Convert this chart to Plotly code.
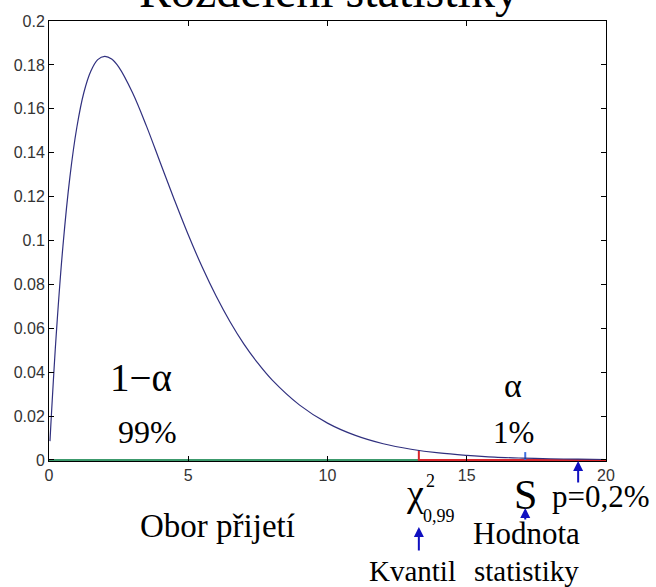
import plotly.graph_objects as go

# ---- data ----
x_curve = [0.035, 0.25, 0.5, 0.75, 1.0, 1.25, 1.5, 1.75, 2.0, 2.25, 2.5, 3.0, 3.5, 4.0, 4.5, 5.0,
           5.5, 6.0, 6.5, 7.0, 7.5, 8.0, 9.0, 10.0, 11.0, 12.0, 13.0, 14.0, 15.0, 16.0, 17.0,
           18.0, 19.0, 20.0]
y_curve = [0.0086, 0.0552, 0.0974, 0.1289, 0.1516, 0.1673, 0.1771, 0.1824, 0.1839, 0.1827,
           0.1791, 0.1673, 0.1521, 0.1353, 0.1186, 0.1026, 0.0879, 0.0747, 0.0630, 0.0528,
           0.0441, 0.0366, 0.0250, 0.0168, 0.0112, 0.0074, 0.0049, 0.0032, 0.0021, 0.0013,
           0.00086, 0.00056, 0.00036, 0.00023]
x_min, x_max = 0, 20
quantile = 13.28
quantile_density = 0.0045
s_value = 17.1
s_tick_top = 0.0036
p_arrow_x = 19.0

x_ticks = [0, 5, 10, 15, 20]
x_tick_labels = ["0", "5", "10", "15", "20"]
y_ticks = [0, 0.02, 0.04, 0.06, 0.08, 0.1, 0.12, 0.14, 0.16, 0.18, 0.2]
y_tick_labels = ["0", "0.02", "0.04", "0.06", "0.08", "0.1", "0.12", "0.14", "0.16", "0.18", "0.2"]

title_text = "Rozdělení statistiky"

# ---- layout geometry (pixels) ----
W, H = 656, 587
L, R, T, B = 49, 50, 21, 126
PLOT_H = H - T - B


def py(pix):
    """pixel row -> paper y"""
    return (H - B - pix) / PLOT_H


def px(pix):
    return (pix - L) / (W - L - R)


SERIF = "Liberation Serif, Times New Roman, serif"
SANS = "Liberation Sans, Arial, sans-serif"

fig = go.Figure()
# acceptance region (green)
fig.add_trace(go.Scatter(x=[x_min, quantile], y=[0, 0], mode="lines",
                         line=dict(color="#3c9a6c", width=2), hoverinfo="skip"))
# critical region (red)
fig.add_trace(go.Scatter(x=[quantile, quantile, x_max], y=[quantile_density, 0, 0], mode="lines",
                         line=dict(color="#d8262b", width=2), hoverinfo="skip"))
# statistic tick
fig.add_trace(go.Scatter(x=[s_value, s_value], y=[0, s_tick_top], mode="lines",
                         line=dict(color="#3f6fe0", width=2), hoverinfo="skip"))
# density curve
fig.add_trace(go.Scatter(x=x_curve, y=y_curve, mode="lines", line_shape="spline",
                         line=dict(color="#30307f", width=1.2), hoverinfo="skip"))

ann = []


def txt(text, xp, yp, size, xanchor="center", yanchor="middle"):
    ann.append(dict(text=text, xref="paper", yref="paper", x=px(xp), y=py(yp),
                    xanchor=xanchor, yanchor=yanchor, showarrow=False,
                    font=dict(family=SERIF, size=size, color="black")))


txt(title_text, 329, 19, 48, yanchor="bottom")
txt("1−α", 141, 377, 39)
txt("99%", 147, 432, 32)
txt("α", 513, 385, 34)
txt("1%", 513, 432, 31)
txt("Obor přijetí", 217, 526, 33)
txt("χ", 415, 493, 38)
txt("2", 431, 481, 18)
txt("0,99", 439, 516, 18)
txt("S", 525, 495, 42)
txt("p=0,2%", 601, 496, 31)
txt("Hodnota", 526, 533, 31)
txt("statistiky", 526, 571, 29)
txt("Kvantil", 412, 571, 29)

for xd, head, length in [(quantile, 527, 25), (s_value, 508, 13), (p_arrow_x, 461, 23)]:
    ann.append(dict(text="", xref="x", yref="paper", x=xd, y=py(head), ax=0, ay=length,
                    showarrow=True, arrowhead=2, arrowsize=1, arrowwidth=2,
                    arrowcolor="#1010c0"))

fig.update_layout(
    width=W, height=H,
    margin=dict(l=L, r=R, t=T, b=B),
    paper_bgcolor="white", plot_bgcolor="white",
    showlegend=False,
    annotations=ann,
    xaxis=dict(range=[x_min, x_max], tickvals=x_ticks, ticktext=x_tick_labels,
               ticks="inside", ticklen=5, tickcolor="black", showline=True, linecolor="black",
               linewidth=1, mirror="ticks", showgrid=False, zeroline=False,
               tickfont=dict(family=SANS, size=16, color="#333333")),
    yaxis=dict(range=[-0.00046, 0.2], tickvals=y_ticks, ticktext=y_tick_labels,
               ticks="inside", ticklen=5, tickcolor="black", showline=True, linecolor="black",
               linewidth=1, mirror="ticks", showgrid=False, zeroline=False,
               tickfont=dict(family=SANS, size=16, color="#333333")),
)

fig.write_html("out.html", config={"displayModeBar": False},
               post_script="document.body.style.margin='0';")
